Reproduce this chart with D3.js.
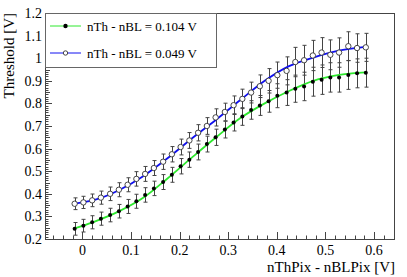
<!DOCTYPE html>
<html lang="en">
<head>
    <meta charset="UTF-8">
    <title>Threshold</title>
    <script src="https://d3js.org/d3.v7.min.js"></script>
    <style>
        body { margin: 0; background: #fff; }
        text { font-family: "Liberation Serif", "Times New Roman", Times, serif; fill: #000; }
    </style>
</head>
<body>
<script>
    // x positions of the measured points [V]
    var xValues = [-0.016, 0.002, 0.020, 0.038, 0.057, 0.075, 0.093, 0.111, 0.129, 0.147,
        0.166, 0.184, 0.202, 0.220, 0.238, 0.256, 0.274, 0.293, 0.311, 0.329,
        0.347, 0.365, 0.383, 0.401, 0.420, 0.438, 0.456, 0.474, 0.492, 0.510,
        0.528, 0.547, 0.565, 0.583];

    // nTh - nBL = 0.104 V (filled markers, green fit)
    var greenY = [0.245, 0.259, 0.274, 0.290, 0.306, 0.323, 0.344, 0.367, 0.395, 0.424,
        0.452, 0.484, 0.522, 0.551, 0.585, 0.620, 0.650, 0.684, 0.716, 0.742,
        0.771, 0.791, 0.809, 0.834, 0.848, 0.865, 0.875, 0.896, 0.905, 0.915,
        0.915, 0.926, 0.933, 0.936];
    var greenErr = [0.028, 0.028, 0.029, 0.029, 0.030, 0.030, 0.031, 0.031, 0.032, 0.032,
        0.033, 0.033, 0.034, 0.034, 0.035, 0.035, 0.036, 0.037, 0.038, 0.039,
        0.041, 0.044, 0.048, 0.053, 0.057, 0.060, 0.063, 0.064, 0.065, 0.065,
        0.065, 0.064, 0.064, 0.064];

    // nTh - nBL = 0.049 V (open markers, blue fit)
    var blueY = [0.356, 0.362, 0.371, 0.383, 0.400, 0.418, 0.440, 0.466, 0.488, 0.514,
        0.542, 0.575, 0.607, 0.636, 0.670, 0.700, 0.738, 0.762, 0.792, 0.820,
        0.848, 0.876, 0.900, 0.925, 0.944, 0.983, 0.991, 1.012, 1.025, 1.015,
        1.025, 1.053, 1.045, 1.048];
    var blueErr = [0.026, 0.027, 0.028, 0.029, 0.030, 0.031, 0.031, 0.032, 0.033, 0.033,
        0.034, 0.034, 0.035, 0.035, 0.036, 0.037, 0.038, 0.039, 0.041, 0.043,
        0.046, 0.050, 0.054, 0.058, 0.062, 0.065, 0.066, 0.067, 0.066, 0.066,
        0.065, 0.064, 0.063, 0.062];

    // fitted curves
    var fitX = [-0.016, 0.025, 0.075, 0.125, 0.175, 0.225, 0.275, 0.325, 0.375, 0.425, 0.475, 0.525, 0.583];
    var fitGreen = [0.247, 0.277, 0.322, 0.382, 0.468, 0.560, 0.650, 0.735, 0.800, 0.855, 0.900, 0.925, 0.937];
    var fitBlue = [0.357, 0.373, 0.416, 0.478, 0.557, 0.645, 0.728, 0.815, 0.900, 0.965, 1.003, 1.032, 1.050];

    var legendLabels = ["nTh - nBL = 0.104 V", "nTh - nBL = 0.049 V"];
    var xTicks = [0, 0.1, 0.2, 0.3, 0.4, 0.5, 0.6];
    var yTicks = [0.2, 0.3, 0.4, 0.5, 0.6, 0.7, 0.8, 0.9, 1, 1.1, 1.2];

    var width = 407;
    var height = 277;
    var padLeft = 45, padRight = 394, padTop = 13, padBottom = 239;

    var svg = d3.select("body").append("svg").attr("width", width).attr("height", height);

    var xScale = d3.scaleLinear().domain([-0.077, 0.641]).range([padLeft, padRight]);
    var yScale = d3.scaleLinear().domain([0.2, 1.2]).range([padBottom, padTop]);

    // frame
    svg.append("rect")
        .attr("x", padLeft + 0.5).attr("y", padTop + 0.5)
        .attr("width", padRight - padLeft).attr("height", padBottom - padTop)
        .attr("fill", "none").attr("stroke", "#444").attr("stroke-width", 1);

    // x axis ticks (major 0.1, minor 0.02)
    var xMinor = d3.range(-6, 33).map(function(d) { return d * 0.02; })
        .filter(function(d) { return d >= -0.077 && d <= 0.641; });
    svg.append("g").selectAll("line")
        .data(xMinor)
        .enter()
        .append("line")
        .attr("x1", function(d) { return Math.round(xScale(d)) + 0.5; })
        .attr("x2", function(d) { return Math.round(xScale(d)) + 0.5; })
        .attr("y1", padBottom)
        .attr("y2", function(d) { return Math.abs(d * 10 - Math.round(d * 10)) < 1e-6 ? padBottom - 7 : padBottom - 3.5; })
        .attr("stroke", "#444");

    svg.append("g").selectAll("text")
        .data(xTicks)
        .enter()
        .append("text")
        .attr("x", function(d) { return xScale(d); })
        .attr("y", 255)
        .attr("text-anchor", "middle")
        .style("font-size", "14px")
        .text(function(d) { return d3.format("")(d); });

    // y axis ticks (major 0.1, minor 0.01)
    var yMinor = d3.range(20, 121).map(function(d) { return d / 100; });
    svg.append("g").selectAll("line")
        .data(yMinor)
        .enter()
        .append("line")
        .attr("x1", padLeft)
        .attr("x2", function(d, i) { return i % 10 == 0 ? padLeft + 7 : (i % 5 == 0 ? padLeft + 5 : padLeft + 3.5); })
        .attr("y1", function(d) { return Math.round(yScale(d)) + 0.5; })
        .attr("y2", function(d) { return Math.round(yScale(d)) + 0.5; })
        .attr("stroke", "#444");

    svg.append("g").selectAll("text")
        .data(yTicks)
        .enter()
        .append("text")
        .attr("x", 42)
        .attr("y", function(d) { return yScale(d) + 5; })
        .attr("text-anchor", "end")
        .style("font-size", "14px")
        .text(function(d) { return d3.format("")(d); });

    // axis titles
    svg.append("text")
        .attr("x", padRight + 1)
        .attr("y", 272)
        .attr("text-anchor", "end")
        .style("font-size", "15px")
        .text("nThPix - nBLPix [V]");

    svg.append("text")
        .attr("transform", "translate(14," + padTop + ") rotate(-90)")
        .attr("text-anchor", "end")
        .style("font-size", "15px")
        .text("Threshold [V]");

    var series = [
        { y: greenY, err: greenErr, fit: fitGreen, color: "#2ee82e", filled: true },
        { y: blueY, err: blueErr, fit: fitBlue, color: "#1010f0", filled: false }
    ];

    // error bars
    series.forEach(function(s) {
        var g = svg.append("g").attr("stroke", "#444").attr("stroke-width", 1);
        xValues.forEach(function(x, i) {
            var px = Math.round(xScale(x)) + 0.5;
            var y1 = yScale(s.y[i] - s.err[i]);
            var y2 = yScale(s.y[i] + s.err[i]);
            g.append("line").attr("x1", px).attr("x2", px).attr("y1", y1).attr("y2", y2);
            g.append("line").attr("x1", px - 2).attr("x2", px + 2).attr("y1", y1).attr("y2", y1);
            g.append("line").attr("x1", px - 2).attr("x2", px + 2).attr("y1", y2).attr("y2", y2);
        });
    });

    // fit curves
    var line = d3.line()
        .x(function(d) { return xScale(d[0]); })
        .y(function(d) { return yScale(d[1]); })
        .curve(d3.curveMonotoneX);

    series.forEach(function(s) {
        svg.append("path")
            .datum(fitX.map(function(x, i) { return [x, s.fit[i]]; }))
            .attr("d", line)
            .attr("fill", "none")
            .attr("stroke", s.color)
            .attr("stroke-width", 1.8);
    });

    // markers
    series.forEach(function(s) {
        svg.append("g").selectAll("circle")
            .data(xValues)
            .enter()
            .append("circle")
            .attr("cx", function(d) { return xScale(d); })
            .attr("cy", function(d, i) { return yScale(s.y[i]); })
            .attr("r", s.filled ? 2 : 2.7)
            .attr("fill", s.filled ? "#000" : "#fff")
            .attr("stroke", s.filled ? "none" : "#333")
            .attr("stroke-width", 0.9);
    });

    // legend
    var lg = svg.append("g");
    lg.append("rect")
        .attr("x", padLeft + 0.5).attr("y", padTop + 0.5)
        .attr("width", 171).attr("height", 54)
        .attr("fill", "#fff").attr("stroke", "#666").attr("stroke-width", 1);

    legendLabels.forEach(function(label, i) {
        var s = series[i];
        var ly = 26 + i * 27;
        lg.append("line")
            .attr("x1", 50).attr("x2", 81)
            .attr("y1", ly).attr("y2", ly)
            .attr("stroke", s.color).attr("stroke-width", 1);
        lg.append("circle")
            .attr("cx", 65.5).attr("cy", ly)
            .attr("r", 2.2)
            .attr("fill", s.filled ? "#000" : "#fff")
            .attr("stroke", s.filled ? "none" : "#333")
            .attr("stroke-width", 0.9);
        lg.append("text")
            .attr("x", 87)
            .attr("y", ly + 5)
            .style("font-size", "13px")
            .text(label);
    });
</script>
</body>
</html>
